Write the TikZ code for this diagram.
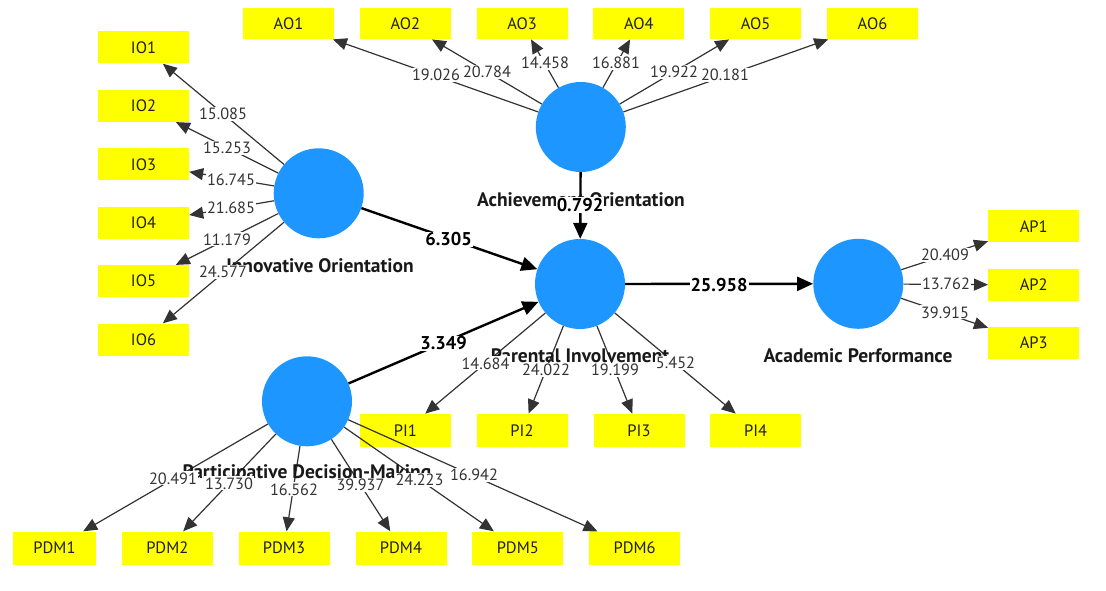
\documentclass[tikz,border=0pt]{standalone}
\usepackage{fontspec}
\setmainfont{PT Sans}
\usetikzlibrary{arrows.meta}
\definecolor{latblue}{RGB}{30,150,255}
\definecolor{indyellow}{RGB}{255,255,0}
\begin{document}
\begin{tikzpicture}[x=1pt,y=-1pt,
  ind/.style={fill=indyellow, minimum width=91pt, minimum height=32pt, inner sep=0pt, font=\fontsize{16.5}{16.5}\selectfont, text=black!88},
  lat/.style={circle, fill=latblue, minimum size=90pt, inner sep=0pt},
  latlab/.style={font=\fontsize{19.5}{19.5}\selectfont\bfseries, text=black!90},
  ld/.style={draw=black!80, line width=1.2pt, -{Triangle[length=14pt,width=12pt]}},
  sd/.style={draw=black, line width=2.4pt, -{Triangle[length=16pt,width=14pt]}},
  wl/.style={fill=white, inner sep=1pt, font=\fontsize{16.3}{16.3}\selectfont, text=black!80},
  sl/.style={fill=white, inner sep=1pt, font=\fontsize{18.5}{18.5}\selectfont\bfseries},
]
\fill[white] (0,0) rectangle (1106,591);
\useasboundingbox (0,0) rectangle (1106,591);

% latent variables
\node[lat] (IO) at (318.7,193.3) {};
\node[lat] (AO) at (580.8,127) {};
\node[lat] (PI) at (580,284) {};
\node[lat] (AP) at (858.3,283.8) {};
\node[lat] (PDM) at (307,401.3) {};

% indicators
\foreach \i/\y in {1/47.5,2/105.9,3/164.3,4/222.7,5/281.1,6/339.5}
  \node[ind] (IO\i) at (143.5,\y) {IO\i};
\foreach \i/\x in {1/288.5,2/405.3,3/522.1,4/638.9,5/755.7,6/872.5}
  \node[ind, minimum height=31pt] (AO\i) at (\x,23.7) {AO\i};
\foreach \i/\y in {1/226.3,2/285,3/343.2}
  \node[ind] (AP\i) at (1033.7,\y) {AP\i};
\foreach \i/\x in {1/405.3,2/522,3/639,4/755.7}
  \node[ind, minimum height=33pt] (PI\i) at (\x,430.3) {PI\i};
\node[ind, minimum width=83pt, minimum height=33pt] (PDM1) at (54.5,548) {PDM1};
\foreach \i/\x in {2/167.3,3/284,4/401,5/517.8,6/634.7}
  \node[ind, minimum height=33pt] (PDM\i) at (\x,548) {PDM\i};

% outer loadings
\foreach \i in {1,...,6} \draw[ld] (IO) -- (IO\i);
\foreach \i in {1,...,6} \draw[ld] (AO) -- (AO\i);
\foreach \i in {1,...,3} \draw[ld] (AP) -- (AP\i);
\foreach \i in {1,...,4} \draw[ld] (PI) -- (PI\i);
\foreach \i in {1,...,6} \draw[ld] (PDM) -- (PDM\i);

% structural paths
\draw[sd] (IO) -- (PI);
\draw[sd] (AO) -- (PI);
\draw[sd] (PDM) -- (PI);
\draw[sd] (PI) -- (AP);

% latent labels
\node[latlab] (IOl) at (320,266) {Innovative Orientation};
\node[latlab] (AOl) at (581,199.5) {Achievement Orientation};
\node[latlab] (PIl) at (580,356) {Parental Involvement};
\node[latlab] (APl) at (858,356) {Academic Performance};
\node[latlab] (PDMl) at (307,474) {Participative Decision-Making};

% loading labels
\node[wl] (lio1) at (223,114) {15.085};
\node[wl] (lio2) at (227,147.7) {15.253};
\node[wl] (lio3) at (231,179.3) {16.745};
\node[wl] (lio4) at (231,207.3) {21.685};
\node[wl] (lio5) at (227,239.3) {11.179};
\node[wl] (lio6) at (223,271.7) {24.577};

\node[wl] (lao1) at (436,75) {19.026};
\node[wl] (lao2) at (487,72) {20.784};
\node[wl] (lao3) at (545,62.7) {14.458};
\node[wl] (lao4) at (616,62.7) {16.881};
\node[wl] (lao5) at (674,72) {19.922};
\node[wl] (lao6) at (725,75) {20.181};

\node[wl] (lap1) at (945,255) {20.409};
\node[wl] (lap2) at (946,284) {13.762};
\node[wl] (lap3) at (945,312.3) {39.915};

\node[wl] (lpi1) at (485.5,363.3) {14.684};
\node[wl] (lpi2) at (546,370) {24.022};
\node[wl] (lpi3) at (615,370) {19.199};
\node[wl] (lpi4) at (675.5,362.7) {5.452};

\node[wl] (lpdm1) at (173,478.3) {20.491};
\node[wl] (lpdm2) at (229,483.3) {13.730};
\node[wl] (lpdm3) at (294,489.3) {16.562};
\node[wl] (lpdm4) at (360.5,485) {39.937};
\node[wl] (lpdm5) at (419.5,480) {24.223};
\node[wl] (lpdm6) at (474,475) {16.942};

% path coefficients
\node[sl] (pio) at (448.7,239.3) {6.305};
\node[sl] (pao) at (580,205) {0.792};
\node[sl] (ppdm) at (443.7,343.3) {3.349};
\node[sl] (ppi) at (719,285) {25.958};
\end{tikzpicture}
\end{document}
